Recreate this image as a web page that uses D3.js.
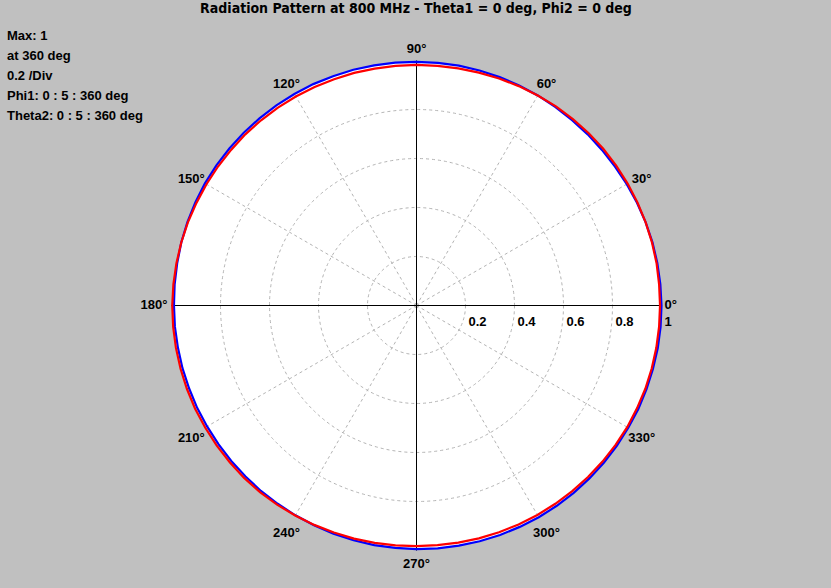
<!DOCTYPE html>
<html><head><meta charset="utf-8">
<script src="https://cdn.jsdelivr.net/npm/d3@7"></script>
<style>body{margin:0;background:#c0c0c0;overflow:hidden}svg{display:block}</style>
</head><body>
<svg id="chart" width="831" height="588"></svg>
<script>
const title = "Radiation Pattern at 800 MHz - Theta1 = 0 deg, Phi2 = 0 deg";
const infoLines = ["Max: 1", "at 360 deg", "0.2 /Div", "Phi1: 0 : 5 : 360 deg", "Theta2: 0 : 5 : 360 deg"];
const angleDeg = [0,5,10,15,20,25,30,35,40,45,50,55,60,65,70,75,80,85,90,95,100,105,110,115,120,125,130,135,140,145,150,155,160,165,170,175,180,185,190,195,200,205,210,215,220,225,230,235,240,245,250,255,260,265,270,275,280,285,290,295,300,305,310,315,320,325,330,335,340,345,350,355,360];
const phi1Pattern = [1.000,0.999,0.998,0.997,0.995,0.993,0.991,0.989,0.988,0.988,0.988,0.989,0.990,0.991,0.992,0.993,0.994,0.994,0.994,0.995,0.995,0.996,0.996,0.997,0.997,0.997,0.997,0.997,0.997,0.997,0.997,0.996,0.995,0.994,0.992,0.991,0.990,0.990,0.989,0.989,0.988,0.988,0.987,0.987,0.987,0.987,0.988,0.988,0.989,0.990,0.991,0.992,0.993,0.993,0.994,0.995,0.995,0.996,0.997,0.997,0.998,0.998,0.998,0.998,0.998,0.998,0.998,0.999,0.999,0.999,1.000,1.000,1.000];
const theta2Pattern = [0.994,0.994,0.995,0.995,0.995,0.995,0.995,0.995,0.995,0.994,0.993,0.992,0.990,0.988,0.986,0.984,0.983,0.982,0.982,0.982,0.982,0.983,0.983,0.984,0.985,0.986,0.987,0.988,0.988,0.989,0.990,0.991,0.993,0.994,0.995,0.996,0.997,0.997,0.997,0.997,0.997,0.997,0.996,0.996,0.995,0.995,0.994,0.992,0.990,0.988,0.986,0.985,0.984,0.983,0.982,0.982,0.983,0.984,0.985,0.986,0.987,0.988,0.989,0.990,0.991,0.992,0.993,0.993,0.994,0.994,0.994,0.994,0.994];
const ringValues = [0.2,0.4,0.6,0.8];
const ringLabels = ["0.2","0.4","0.6","0.8","1"];
const ringLabelValues = [0.2,0.4,0.6,0.8,1];
const spokeAngles = [30,60,120,150,210,240,300,330];
const angleLabelDeg = [0,30,60,90,120,150,180,210,240,270,300,330];

const svg = d3.select("#chart");
const cx = 416.5, cy = 305.5, R = 245;
const r = d3.scaleLinear().domain([0,1]).range([0,R]);
const toA = d => (90 - d) * Math.PI / 180; // d3 radial angle
const g = svg.append("g").attr("transform", `translate(${cx},${cy})`);

svg.insert("rect", ":first-child").attr("width",831).attr("height",588).attr("fill","#c0c0c0");

const line = d3.lineRadial().angle((d,i)=>toA(angleDeg[i])).radius(d=>r(d)).curve(d3.curveLinearClosed);

// white fill
g.append("path").attr("d", line(phi1Pattern)).attr("fill","#fff");
g.append("path").attr("d", line(theta2Pattern)).attr("fill","#fff");
g.append("circle").attr("r", r(0.98)).attr("fill","#fff");

// grid rings
g.selectAll(".ring").data(ringValues).join("circle")
  .attr("r", d=>r(d)).attr("fill","none").attr("stroke","#b4b4b4").attr("stroke-dasharray","3,3").attr("stroke-width",1);
// spokes
g.selectAll(".spoke").data(spokeAngles).join("line")
  .attr("x1",0).attr("y1",0)
  .attr("x2", d=>r(1)*Math.cos(d*Math.PI/180)).attr("y2", d=>-r(1)*Math.sin(d*Math.PI/180))
  .attr("stroke","#b4b4b4").attr("stroke-dasharray","3,3").attr("stroke-width",1);
// axes
g.append("line").attr("x1",-r(1)).attr("x2",r(1)).attr("y1",0).attr("y2",0).attr("stroke","#000").attr("stroke-width",1);
g.append("line").attr("y1",-r(1)).attr("y2",r(1)).attr("x1",0).attr("x2",0).attr("stroke","#000").attr("stroke-width",1);

// curves
g.append("path").attr("d", line(phi1Pattern)).attr("fill","none").attr("stroke","#0000ff").attr("stroke-width",2.2);
g.append("path").attr("d", line(theta2Pattern)).attr("fill","none").attr("stroke","#ff0000").attr("stroke-width",2.2);

// ring labels
g.selectAll(".rl").data(ringLabelValues).join("text")
  .attr("x", d=>r(d)+3).attr("y", 20)
  .attr("font-family","Liberation Sans, Arial, sans-serif").attr("font-weight","bold").attr("font-size",13)
  .attr("fill","#000").text((d,i)=>ringLabels[i]);

// angle labels
g.selectAll(".al").data(angleLabelDeg).join("text")
  .attr("x", d=>{ if(d===0) return R+3; if(d===180) return -R-4; return (R+15)*Math.cos(d*Math.PI/180); })
  .attr("y", d=>{ if(d===0||d===180) return 0; if(d===270) return R+14; return -(R+14)*Math.sin(d*Math.PI/180)+3.5; })
  .attr("text-anchor", d=> d===0 ? "start" : d===180 ? "end" : "middle")
  .attr("dominant-baseline","middle")
  .attr("font-family","Liberation Sans, Arial, sans-serif").attr("font-weight","bold").attr("font-size",13)
  .attr("fill","#000").text(d=>d+"°");

// title
svg.append("text").attr("x",416).attr("y",13).attr("text-anchor","middle")
  .attr("font-family","DejaVu Sans Condensed, DejaVu Sans, sans-serif").attr("font-weight","bold").attr("font-size",14)
  .attr("fill","#000").text(title);

// info
svg.selectAll(".info").data(infoLines).join("text")
  .attr("x",7).attr("y",(d,i)=>40+i*20)
  .attr("font-family","Liberation Sans, Arial, sans-serif").attr("font-weight","bold").attr("font-size",13)
  .attr("fill","#000").text(d=>d);
</script>
</body></html>
